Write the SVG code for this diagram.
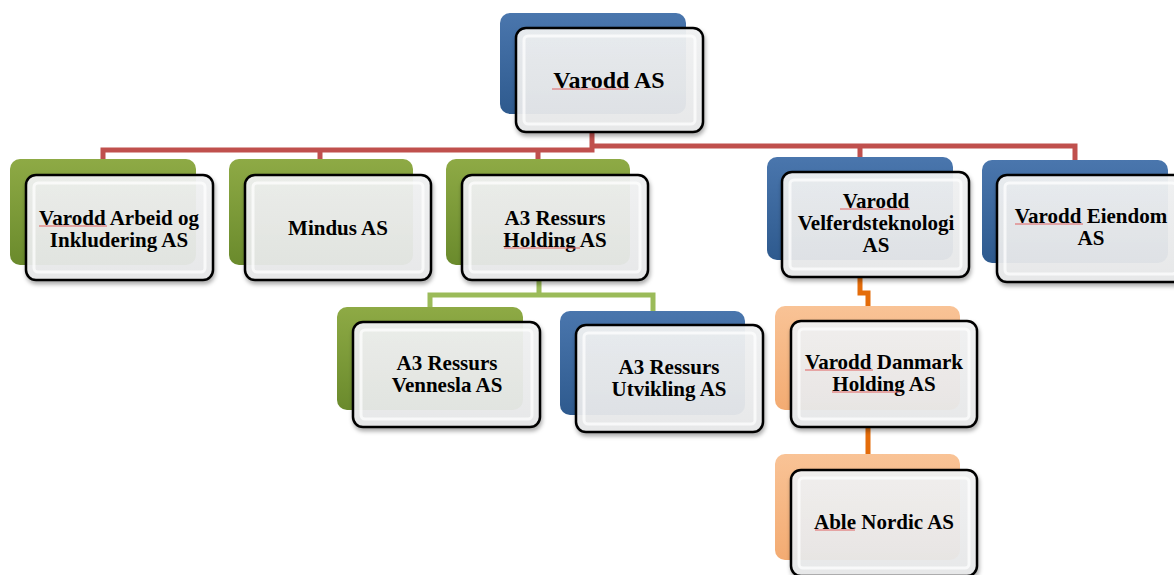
<svg xmlns="http://www.w3.org/2000/svg" width="1174" height="575" viewBox="0 0 1174 575">
<style>
.front{fill:url(#frontG);stroke:#000;stroke-width:2.5;filter:url(#sh)}
.bevel{fill:none;stroke:#ffffff;stroke-width:3;opacity:0.7}
.blue{fill:url(#blueG)}
.green{fill:url(#greenG)}
.orange{fill:url(#orangeG)}
.t{font-family:"Liberation Serif","Times New Roman",serif;font-weight:bold;font-size:21px;fill:#000;text-anchor:middle}
.sp{stroke:#e06060;stroke-width:1;fill:none}
.red{stroke:#c0504d;stroke-width:5;fill:none}
.lg{stroke:#9bbb59;stroke-width:5;fill:none}
.or{stroke:#e46c0a;stroke-width:5;fill:none}
</style>
<defs>
<linearGradient id="frontG" x1="0" y1="0" x2="0" y2="1">
<stop offset="0" stop-color="#f2f3f4" stop-opacity="0.93"/>
<stop offset="1" stop-color="#e8e9ea" stop-opacity="0.93"/>
</linearGradient>
<linearGradient id="blueG" x1="0" y1="0" x2="0" y2="1">
<stop offset="0" stop-color="#4a76ad"/>
<stop offset="1" stop-color="#2e5a8e"/>
</linearGradient>
<linearGradient id="greenG" x1="0" y1="0" x2="0" y2="1">
<stop offset="0" stop-color="#8eaa45"/>
<stop offset="1" stop-color="#6a8a2c"/>
</linearGradient>
<linearGradient id="orangeG" x1="0" y1="0" x2="0" y2="1">
<stop offset="0" stop-color="#f9c396"/>
<stop offset="1" stop-color="#f3ab72"/>
</linearGradient>
<filter id="sh" x="-10%" y="-10%" width="125%" height="130%">
<feDropShadow dx="1" dy="3" stdDeviation="2" flood-color="#000" flood-opacity="0.35"/>
</filter>
</defs>
<rect width="1174" height="575" fill="#ffffff"/>

<g id="connectors">
<path class="red" d="M592 132 V146 M103 160 V150 H592 V146 H1075 V160 M320 150 V160 M538 150 V160 M860 146 V158"/>
<path class="lg" d="M539 281 V295 M430 307 V295 H653 V311"/>
<path class="or" d="M860 277 V293 H868 V306 M868 427 V455"/>
</g>

<g id="varodd-as">
<rect class="blue" x="500" y="13" width="186" height="101" rx="10"/>
<rect class="front" x="516" y="28" width="187" height="104" rx="10"/>
<rect class="bevel" x="524" y="36" width="171" height="88" rx="4"/>
<text class="t" x="609" y="88" style="font-size:24px">Varodd AS</text>
<path class="sp" d="M552 89 H628"/>
</g>

<g id="varodd-arbeid">
<rect class="green" x="10" y="159" width="186" height="106" rx="10"/>
<rect class="front" x="26" y="175" width="187" height="105" rx="10"/>
<rect class="bevel" x="34" y="183" width="171" height="89" rx="4"/>
<text class="t" x="119" y="225">Varodd Arbeid og</text>
<text class="t" x="119" y="247">Inkludering AS</text>
<path class="sp" d="M39 226 H107"/>
</g>

<g id="mindus">
<rect class="green" x="229" y="159" width="184" height="106" rx="10"/>
<rect class="front" x="245" y="175" width="186" height="105" rx="10"/>
<rect class="bevel" x="253" y="183" width="170" height="89" rx="4"/>
<text class="t" x="338" y="235">Mindus AS</text>
</g>

<g id="a3-holding">
<rect class="green" x="446" y="159" width="184" height="106" rx="10"/>
<rect class="front" x="462" y="175" width="186" height="105" rx="10"/>
<rect class="bevel" x="470" y="183" width="170" height="89" rx="4"/>
<text class="t" x="555" y="225">A3 Ressurs</text>
<text class="t" x="555" y="247">Holding AS</text>
<path class="sp" d="M504 248 H580"/>
</g>

<g id="varodd-velferd">
<rect class="blue" x="767" y="157" width="186" height="103" rx="10"/>
<rect class="front" x="782" y="172" width="187" height="105" rx="10"/>
<rect class="bevel" x="790" y="180" width="171" height="89" rx="4"/>
<text class="t" x="876" y="208">Varodd</text>
<text class="t" x="876" y="230">Velferdsteknologi</text>
<text class="t" x="876" y="252">AS</text>
<path class="sp" d="M840 209 H910"/>
</g>

<g id="varodd-eiendom">
<rect class="blue" x="982" y="160" width="186" height="103" rx="10"/>
<rect class="front" x="997" y="175" width="187" height="107" rx="10"/>
<rect class="bevel" x="1005" y="183" width="171" height="91" rx="4"/>
<text class="t" x="1091" y="223">Varodd Eiendom</text>
<text class="t" x="1091" y="245">AS</text>
<path class="sp" d="M1015 224 H1083"/>
</g>

<g id="a3-vennesla">
<rect class="green" x="337" y="307" width="186" height="103" rx="10"/>
<rect class="front" x="353" y="322" width="187" height="105" rx="10"/>
<rect class="bevel" x="361" y="330" width="171" height="89" rx="4"/>
<text class="t" x="447" y="370">A3 Ressurs</text>
<text class="t" x="447" y="392">Vennesla AS</text>
</g>

<g id="a3-utvikling">
<rect class="blue" x="560" y="311" width="185" height="104" rx="10"/>
<rect class="front" x="576" y="325" width="187" height="107" rx="10"/>
<rect class="bevel" x="584" y="333" width="171" height="91" rx="4"/>
<text class="t" x="669" y="374">A3 Ressurs</text>
<text class="t" x="669" y="396">Utvikling AS</text>
</g>

<g id="varodd-danmark">
<rect class="orange" x="775" y="306" width="185" height="104" rx="10"/>
<rect class="front" x="791" y="321" width="186" height="106" rx="10"/>
<rect class="bevel" x="799" y="329" width="170" height="90" rx="4"/>
<text class="t" x="884" y="369">Varodd Danmark</text>
<text class="t" x="884" y="391">Holding AS</text>
<path class="sp" d="M805 370 H873 M832 392 H900"/>
</g>

<g id="able-nordic">
<rect class="orange" x="775" y="454" width="185" height="106" rx="10"/>
<rect class="front" x="791" y="470" width="186" height="106" rx="10"/>
<rect class="bevel" x="799" y="478" width="170" height="90" rx="4"/>
<text class="t" x="884" y="529">Able Nordic AS</text>
<path class="sp" d="M815 530 H855"/>
</g>
</svg>
